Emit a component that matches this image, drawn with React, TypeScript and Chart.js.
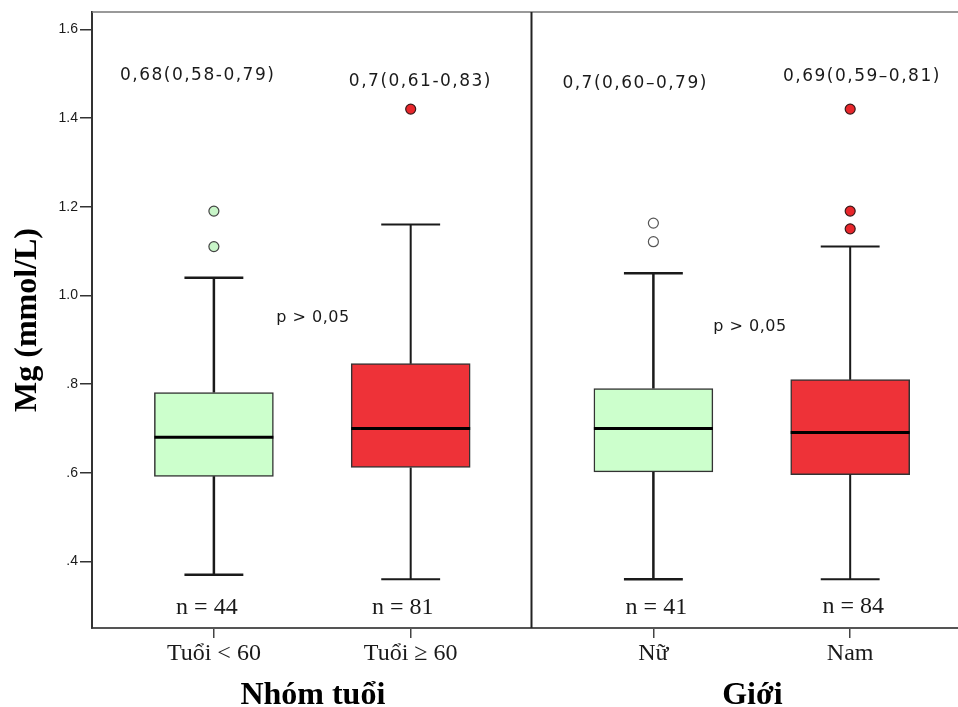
import { useEffect, useRef } from 'react';
import { Chart, registerables } from 'chart.js';
Chart.register(...registerables);

// ---------- data ----------
const categories = ['Tuổi < 60', 'Tuổi ≥ 60', 'Nữ', 'Nam'];
const groupTitles = ['Nhóm tuổi', 'Giới'];
const groupOf = [0, 0, 1, 1];
const slotOf = [0, 1, 0, 1];
const whiskerLow = [0.37, 0.36, 0.36, 0.36];
const q1 = [0.592, 0.612, 0.602, 0.596];
const median = [0.68, 0.70, 0.70, 0.691];
const q3 = [0.781, 0.846, 0.79, 0.81];
const whiskerHigh = [1.04, 1.16, 1.05, 1.11];
const outliers = [[1.19, 1.11], [1.42], [1.163, 1.121], [1.42, 1.19, 1.15]];
const nLabels = ['n = 44', 'n = 81', 'n = 41', 'n = 84'];
const summaryLabels = ['0,68(0,58-0,79)', '0,7(0,61-0,83)', '0,7(0,60–0,79)', '0,69(0,59–0,81)'];
const pLabels = ['p > 0,05', 'p > 0,05'];
const yTicks = [0.4, 0.6, 0.8, 1.0, 1.2, 1.4, 1.6];

// ---------- layout / style ----------
const X_SLOTS = [0.563, 1.472];
const GROUP_WIDTH = 2.03;
const X_MAX = 4;
const Y_MIN = 0.25;
const Y_MAX = 1.639;
const BOX_PX = 119;
const BOX_HALF = 0.2748;
const CAP_HALF = 0.136;
const SUMMARY_DX = [-17, 9, -19, 11];
const SUMMARY_Y = [1.496, 1.482, 1.478, 1.493];
const N_DX = [-7, -8, 3, 3];
const N_Y = [0.296, 0.296, 0.296, 0.298];
const P_X = [1.021, 1.009];
const P_Y = [0.949, 0.930];
const GROUP_TITLE_X = 1.02;
const boxFill = ['#CCFFCC', '#EE3238', '#CCFFCC', '#EE3238'];
const outlierFill = ['#C8F5C8', '#E8262B', '#FFFFFF', '#E8262B'];
const outlierBorder = ['#444444', '#3a1a1a', '#555555', '#3a1a1a'];
const whiskerWidth = [2.5, 2, 2.5, 2];

const xPos = (i: number) => groupOf[i] * GROUP_WIDTH + X_SLOTS[slotOf[i]];

export default function App() {
  const ref = useRef<HTMLCanvasElement | null>(null);

  useEffect(() => {
    document.body.style.margin = '0';
    const canvas = ref.current;
    if (!canvas) return;

    const datasets: any[] = [];
    categories.forEach((_, i) => {
      const x = xPos(i);
      datasets.push({
        type: 'line',
        data: [
          { x, y: whiskerLow[i] }, { x, y: q1[i] }, { x, y: null },
          { x, y: q3[i] }, { x, y: whiskerHigh[i] }, { x, y: null },
          { x: x - CAP_HALF, y: whiskerLow[i] }, { x: x + CAP_HALF, y: whiskerLow[i] }, { x, y: null },
          { x: x - CAP_HALF, y: whiskerHigh[i] }, { x: x + CAP_HALF, y: whiskerHigh[i] },
        ],
        borderColor: '#1a1a1a',
        borderWidth: whiskerWidth[i],
        pointRadius: 0,
        spanGaps: false,
        fill: false,
        tension: 0,
        order: 2,
      });
      datasets.push({
        type: 'line',
        data: [{ x: x - BOX_HALF, y: median[i] }, { x: x + BOX_HALF, y: median[i] }],
        borderColor: '#000000',
        borderWidth: 3,
        pointRadius: 0,
        fill: false,
        order: 1,
      });
      datasets.push({
        type: 'scatter',
        data: outliers[i].map((v) => ({ x, y: v })),
        pointRadius: 5,
        pointBorderWidth: 1.2,
        pointBackgroundColor: outlierFill[i],
        pointBorderColor: outlierBorder[i],
        order: 0,
      });
    });
    datasets.push({
      type: 'bar',
      data: categories.map((_, i) => ({ x: xPos(i), y: [q1[i], q3[i]] })),
      backgroundColor: boxFill,
      borderColor: '#333333',
      borderWidth: 1.5,
      borderSkipped: false,
      barThickness: BOX_PX,
      order: 5,
    });

    const textPlugin = {
      id: 'textPlugin',
      afterDraw(chart: any) {
        const { ctx, chartArea } = chart;
        const xs = chart.scales.x;
        const ys = chart.scales.y;
        ctx.save();
        // top frame line
        ctx.strokeStyle = '#777777';
        ctx.lineWidth = 1.5;
        ctx.beginPath();
        ctx.moveTo(chartArea.left, chartArea.top);
        ctx.lineTo(chartArea.right, chartArea.top);
        ctx.stroke();
        // divider
        const dx = xs.getPixelForValue(GROUP_WIDTH);
        ctx.strokeStyle = '#222222';
        ctx.lineWidth = 2;
        ctx.beginPath();
        ctx.moveTo(dx, chartArea.top);
        ctx.lineTo(dx, chartArea.bottom);
        ctx.stroke();

        ctx.fillStyle = '#1a1a1a';
        ctx.textAlign = 'center';
        ctx.textBaseline = 'middle';
        // summary labels
        ctx.font = '17px "DejaVu Sans"';
        (ctx as any).letterSpacing = '1.5px';
        summaryLabels.forEach((t, i) => {
          ctx.fillText(t, xs.getPixelForValue(xPos(i)) + SUMMARY_DX[i] + 0.75, ys.getPixelForValue(SUMMARY_Y[i]));
        });
        // p labels
        ctx.font = '16px "DejaVu Sans"';
        (ctx as any).letterSpacing = '0.5px';
        pLabels.forEach((t, g) => {
          ctx.fillText(t, xs.getPixelForValue(g * GROUP_WIDTH + P_X[g]), ys.getPixelForValue(P_Y[g]));
        });
        (ctx as any).letterSpacing = '0px';
        // n labels
        ctx.font = '24px "Liberation Serif"';
        nLabels.forEach((t, i) => {
          ctx.fillText(t, xs.getPixelForValue(xPos(i)) + N_DX[i], ys.getPixelForValue(N_Y[i]));
        });
        // group titles
        ctx.font = 'bold 32px "Liberation Serif"';
        ctx.fillStyle = '#000000';
        groupTitles.forEach((t, g) => {
          ctx.fillText(t, xs.getPixelForValue(g * GROUP_WIDTH + GROUP_TITLE_X), chartArea.bottom + 68);
        });
        // y title
        ctx.translate(28, (chartArea.top + chartArea.bottom) / 2);
        ctx.rotate(-Math.PI / 2);
        ctx.fillText('Mg (mmol/L)', 0, 0);
        ctx.restore();
      },
    };

    const chart = new Chart(canvas, {
      type: 'bar',
      data: { datasets },
      options: {
        animation: false,
        responsive: false,
        maintainAspectRatio: false,
        layout: { autoPadding: false, padding: { top: 12, left: 0, right: 0, bottom: 0 } },
        plugins: { legend: { display: false }, tooltip: { enabled: false } },
        scales: {
          x: {
            type: 'linear',
            min: 0,
            max: X_MAX,
            offset: false,
            afterBuildTicks: (scale: any) => {
              scale.ticks = categories.map((_, i) => ({ value: xPos(i) }));
            },
            afterFit: (scale: any) => { scale.height = 79; },
            ticks: {
              autoSkip: false,
              maxRotation: 0,
              padding: 1,
              color: '#1a1a1a',
              font: { family: '"Liberation Serif"', size: 24 },
              callback: (_v: any, idx: number) => categories[idx],
            },
            grid: { display: true, drawOnChartArea: false, drawTicks: true, tickLength: 10, color: '#444444', lineWidth: 1.5, offset: false },
            border: { display: true, color: '#555555', width: 2 },
          },
          y: {
            type: 'linear',
            min: Y_MIN,
            max: Y_MAX,
            afterBuildTicks: (scale: any) => {
              scale.ticks = yTicks.map((v) => ({ value: v }));
            },
            afterFit: (scale: any) => { scale.width = 92; },
            ticks: {
              padding: 2,
              color: '#1a1a1a',
              font: { family: '"Liberation Sans"', size: 14 },
              callback: (v: any) => {
                const n = Number(v);
                return n >= 1 ? n.toFixed(1) : '.' + Math.round(n * 10);
              },
            },
            grid: { display: true, drawOnChartArea: false, drawTicks: true, tickLength: 12, color: '#333333', lineWidth: 1.5 },
            border: { display: true, color: '#333333', width: 2 },
          },
        },
      } as any,
      plugins: [textPlugin],
    });
    return () => chart.destroy();
  }, []);

  return (
    <div style={{ width: 958, height: 707 }}>
      <canvas ref={ref} width={958} height={707} style={{ display: 'block' }} />
    </div>
  );
}
